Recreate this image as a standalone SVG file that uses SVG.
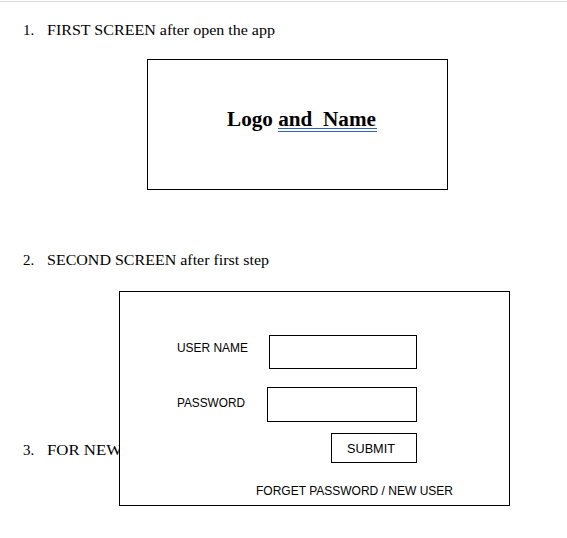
<svg xmlns="http://www.w3.org/2000/svg" width="567" height="538" viewBox="0 0 567 538">
  <style>
    .doc { font-family: "Liberation Serif", "Times New Roman", serif; font-size: 15px; fill: #000; }
    .ui { font-family: "Liberation Sans", Arial, sans-serif; font-size: 13.5px; fill: #000; }
    .frame { fill: #fff; stroke: #000; stroke-width: 1; }
    .under { stroke: #2f5fc4; stroke-width: 1; }
  </style>
  <rect width="567" height="538" fill="#fff"/>
  <line x1="0" y1="1.5" x2="567" y2="1.5" stroke="#d9d9d9" stroke-width="1"/>

  <!-- step 1 -->
  <g id="step1-heading">
    <text class="doc" x="23" y="35">1.</text>
    <text class="doc" x="47" y="35" textLength="228" lengthAdjust="spacingAndGlyphs">FIRST SCREEN after open the app</text>
  </g>
  <g id="splash-screen">
    <rect class="frame" x="147.5" y="59.5" width="300" height="130"/>
    <text x="227" y="126" font-family="'Liberation Serif', 'Times New Roman', serif" font-size="20" font-weight="bold" textLength="149" lengthAdjust="spacingAndGlyphs" xml:space="preserve">Logo and  Name</text>
    <line class="under" x1="278" y1="128.5" x2="377" y2="128.5"/>
    <line class="under" x1="278" y1="131.5" x2="377" y2="131.5"/>
  </g>

  <!-- step 2 -->
  <g id="step2-heading">
    <text class="doc" x="23" y="265">2.</text>
    <text class="doc" x="47" y="265" textLength="222" lengthAdjust="spacingAndGlyphs">SECOND SCREEN after first step</text>
  </g>

  <!-- step 3 (partly covered by the login frame) -->
  <g id="step3-heading">
    <text class="doc" x="23" y="455">3.</text>
    <text class="doc" x="47" y="455" textLength="75" lengthAdjust="spacingAndGlyphs">FOR NEW</text>
  </g>

  <g id="login-screen">
    <rect class="frame" x="119.5" y="291.5" width="390" height="214"/>
    <g id="username">
      <text class="ui" x="177" y="352" textLength="71" lengthAdjust="spacingAndGlyphs">USER NAME</text>
      <rect class="frame" x="269.5" y="335.5" width="147" height="33"/>
    </g>
    <g id="password">
      <text class="ui" x="177" y="407" textLength="68" lengthAdjust="spacingAndGlyphs">PASSWORD</text>
      <rect class="frame" x="267.5" y="387.5" width="149" height="34"/>
    </g>
    <g id="submit">
      <rect class="frame" x="331.5" y="433.5" width="85" height="29"/>
      <text class="ui" x="347" y="453" textLength="48" lengthAdjust="spacingAndGlyphs">SUBMIT</text>
    </g>
    <g id="links">
      <text class="ui" x="256" y="495" textLength="197" lengthAdjust="spacingAndGlyphs">FORGET PASSWORD / NEW USER</text>
    </g>
  </g>
</svg>
